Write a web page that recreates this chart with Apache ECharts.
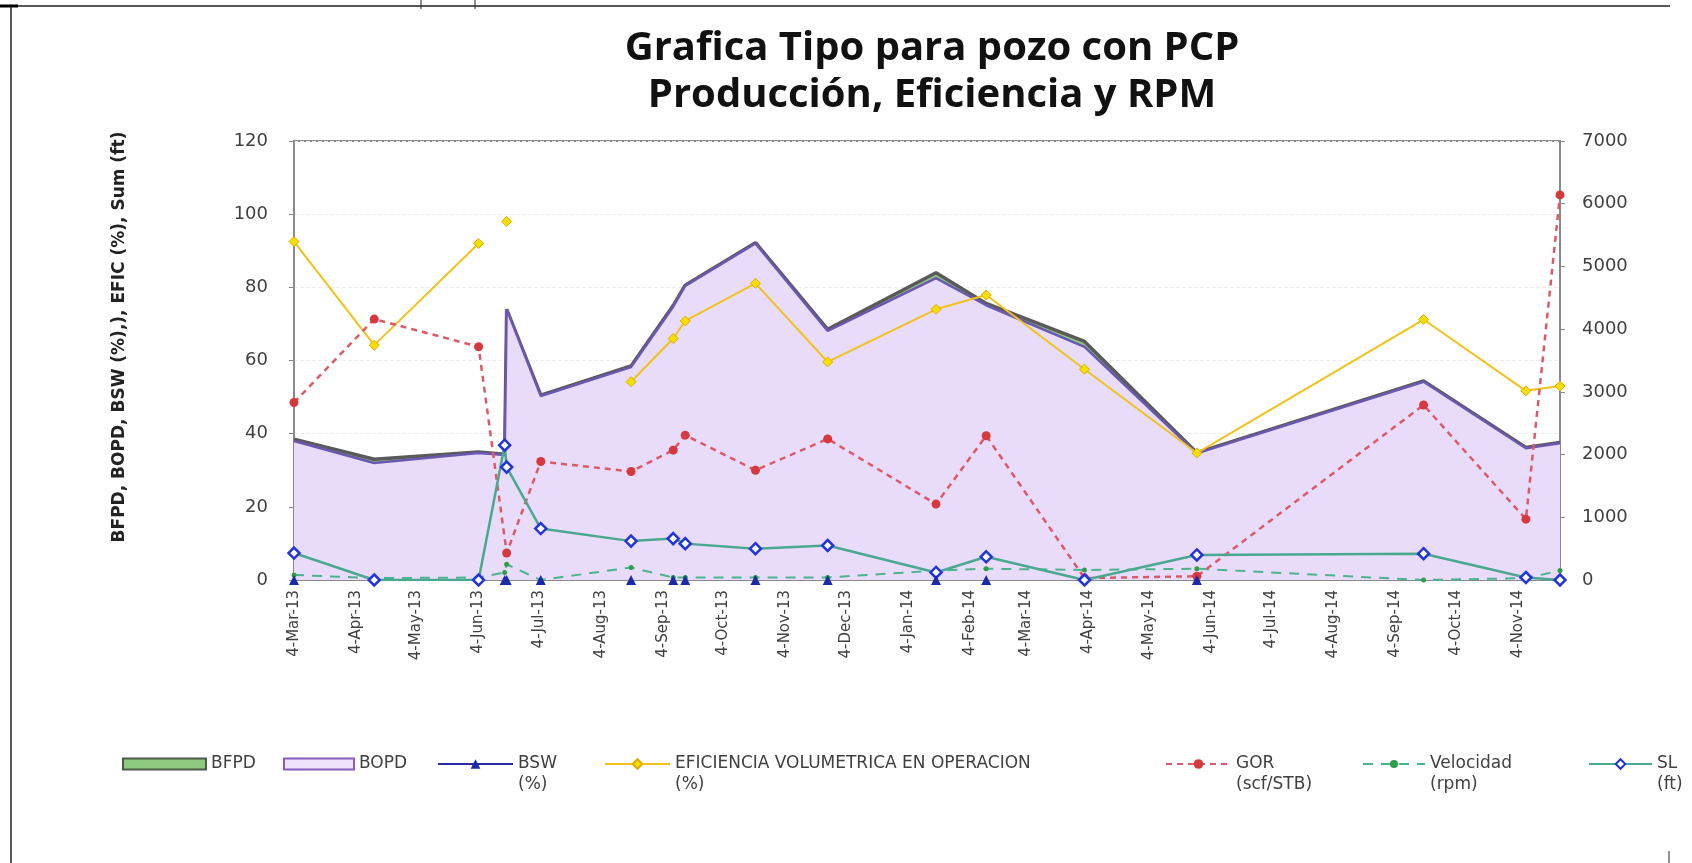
<!DOCTYPE html>
<html><head><meta charset="utf-8">
<script src="https://cdn.jsdelivr.net/npm/echarts@6/dist/echarts.min.js"></script>
<style>html,body{margin:0;padding:0;background:#fff}#c{width:1692px;height:863px}</style>
</head><body><div id="c"></div>
<script>
// ---- data ----
const dates = ['2013-03-04','2013-04-13','2013-06-04','2013-06-17','2013-06-18','2013-07-05','2013-08-19','2013-09-09','2013-09-15','2013-10-20','2013-11-25','2014-01-18','2014-02-12','2014-04-02','2014-05-28','2014-09-18','2014-11-08','2014-11-25'];
const bfpd = [38.5, 33, 35, 34.4, 74, 50.5, 58.5, 75, 80.6, 92.2, 68.5, 84, 75.6, 65.2, 34.8, 54.4, 36.2, 37.6];
const bopd = [38, 32, 34.7, 34.2, 74, 50.3, 58.2, 74.7, 80.4, 92, 68.1, 82.5, 75.1, 63.7, 34.6, 54.2, 36, 37.4];
const bsw = [0, null, null, 0, 0, 0, 0, 0, 0, 0, 0, 0, 0, null, 0, null, null, null];
const eficiencia = [92.5, 64.2, 92, null, 98, null, 54.2, 66, 70.8, 81.1, 59.6, 74, 77.9, 57.6, 34.7, 71.2, 51.7, 53];
const gor = [2830, 4160, 3720, null, 430, 1890, 1730, 2070, 2310, 1750, 2250, 1210, 2300, 30, 60, 2790, 970, 6140];
const velocidad = [80, 30, 40, 120, 250, 0, 200, 40, 40, 40, 40, 150, 180, 160, 180, 0, 30, 150];
const sl = [430, 0, 0, 2150, 1800, 820, 620, 660, 580, 500, 550, 120, 370, 0, 400, 420, 40, 0];
const tickLabels = ['4-Mar-13','4-Apr-13','4-May-13','4-Jun-13','4-Jul-13','4-Aug-13','4-Sep-13','4-Oct-13','4-Nov-13','4-Dec-13','4-Jan-14','4-Feb-14','4-Mar-14','4-Apr-14','4-May-14','4-Jun-14','4-Jul-14','4-Aug-14','4-Sep-14','4-Oct-14','4-Nov-14'];
const leftTicks = [0, 20, 40, 60, 80, 100, 120];
const rightTicks = [0, 1000, 2000, 3000, 4000, 5000, 6000, 7000];
const titleText = 'Grafica Tipo para pozo con PCP\nProducción, Eficiencia y RPM';
const leftAxisName = 'BFPD, BOPD, BSW (%),), EFIC (%), Sum (ft)';
const names = ['BFPD', 'BOPD', 'BSW\n(%)', 'EFICIENCIA VOLUMETRICA EN OPERACION\n(%)', 'GOR\n(scf/STB)', 'Velocidad\n(rpm)', 'SL\n(ft)'];

// ---- helpers ----
const MON = {Jan:0,Feb:1,Mar:2,Apr:3,May:4,Jun:5,Jul:6,Aug:7,Sep:8,Oct:9,Nov:10,Dec:11};
const DAY = 86400000;
function dayNum(y, m, d){ return Math.round(Date.UTC(y, m, d) / DAY); }
function ts(s){ const p = s.split('-').map(Number); return dayNum(p[0], p[1]-1, p[2]); }
function tickTs(l){ const p = l.split('-'); return dayNum(2000 + Number(p[2]), MON[p[1]], Number(p[0])); }
const xs = dates.map(ts);
const tickVals = tickLabels.map(tickTs);
function pairs(arr){ return arr.map((v, i) => [xs[i], v == null ? '-' : v]); }
function labelFor(v){ let best = 0, bd = Infinity; tickVals.forEach((t, i) => { const d = Math.abs(t - v); if (d < bd) { bd = d; best = i; } }); return tickLabels[best]; }

const chart = echarts.init(document.getElementById('c'), null, {renderer: 'canvas'});
const labelFont = 'DejaVu Sans';
const axisGray = '#8a8a8a';
const txt = '#404040';

function legendAt(idx, left, twoLine, icon, extra){
  const lh = 21;
  return {
    data: [Object.assign({name: names[idx]}, extra || {})],
    left: left,
    top: twoLine ? 764 - lh * 1.5 : 764 - lh / 2,
    padding: 0,
    itemWidth: icon.w, itemHeight: icon.h,
    selectedMode: false,
    formatter: twoLine ? function(n){ return ' \n' + n; } : '{name}',
    textStyle: {fontFamily: labelFont, fontSize: 17, color: txt, lineHeight: lh}
  };
}

const option = {
  animation: false,
  backgroundColor: '#ffffff',
  title: {
    text: titleText, left: 927, top: 20, textAlign: 'center',
    textStyle: {fontFamily: 'Open Sans', fontWeight: 'bold', fontSize: 40, lineHeight: 47, color: '#111111'}
  },
  grid: {left: 294, right: 132, top: 141, bottom: 283, show: true, borderColor: axisGray, borderWidth: 2, backgroundColor: 'transparent'},
  legend: [
    legendAt(0, 122, false, {w: 83, h: 11}, {icon: 'rect', itemStyle: {color: '#8dc97f', borderColor: '#4a5a48', borderWidth: 2}}),
    legendAt(1, 283, false, {w: 70, h: 11}, {icon: 'rect', itemStyle: {color: '#efe3fb', borderColor: '#8a5cc0', borderWidth: 2}}),
    legendAt(2, 437, true, {w: 75, h: 12}, {lineStyle: {color: '#2b2ba0', width: 2, opacity: 1}}),
    legendAt(3, 604, true, {w: 65, h: 12}),
    legendAt(4, 1165, true, {w: 65, h: 12}),
    legendAt(5, 1362, true, {w: 62, h: 10}),
    legendAt(6, 1588, true, {w: 63, h: 12})
  ],
  xAxis: {
    type: 'value',
    min: xs[0], max: xs[xs.length - 1],
    axisLine: {show: true, onZero: false, lineStyle: {color: axisGray, width: 2}},
    axisTick: {show: false},
    splitLine: {show: false},
    axisLabel: {
      customValues: tickVals,
      formatter: function(v){ return labelFor(v); },
      rotate: 90, fontFamily: labelFont, fontSize: 15, color: txt, margin: 10,
      hideOverlap: false
    }
  },
  yAxis: [
    {
      type: 'value', min: leftTicks[0], max: leftTicks[leftTicks.length - 1], interval: leftTicks[1] - leftTicks[0],
      axisLine: {show: true, lineStyle: {color: axisGray, width: 2}},
      axisTick: {show: true, length: 5, lineStyle: {color: axisGray}},
      axisLabel: {fontFamily: labelFont, fontSize: 18, color: txt, margin: 26},
      splitLine: {show: true, lineStyle: {color: '#ececec', type: 'dashed'}}
    },
    {
      type: 'value', position: 'right', min: rightTicks[0], max: rightTicks[rightTicks.length - 1], interval: rightTicks[1] - rightTicks[0],
      axisLine: {show: true, lineStyle: {color: axisGray, width: 2}},
      axisTick: {show: true, length: 5, lineStyle: {color: axisGray}},
      axisLabel: {fontFamily: labelFont, fontSize: 18, color: txt, margin: 22, formatter: function(v){ return String(v); }},
      splitLine: {show: false}
    }
  ],
  series: [
    {name: names[0], type: 'line', yAxisIndex: 0, data: pairs(bfpd), symbol: 'none', z: 1,
     itemStyle: {color: '#8dc97f'}, lineStyle: {color: '#5a5a5a', width: 3.5}, areaStyle: {color: '#8dc97f', opacity: 1}},
    {name: names[1], type: 'line', yAxisIndex: 0, data: pairs(bopd), symbol: 'none', z: 2,
     itemStyle: {color: '#e8dcfa'}, lineStyle: {color: '#6a58b0', width: 2.5}, areaStyle: {color: '#e8dcfa', opacity: 1}},
    {name: names[2], type: 'line', yAxisIndex: 0, data: pairs(bsw), connectNulls: true, z: 5,
     symbol: 'triangle', symbolSize: 10, itemStyle: {color: '#1d2aa8'}, lineStyle: {color: '#2b2ba0', width: 2, opacity: 0}},
    {name: names[3], type: 'line', yAxisIndex: 0, data: pairs(eficiencia), connectNulls: false, z: 4,
     symbol: 'diamond', symbolSize: 10, itemStyle: {color: '#f4e000', borderColor: '#e2aa00', borderWidth: 1},
     lineStyle: {color: '#f0c21a', width: 2}},
    {name: names[4], type: 'line', yAxisIndex: 1, data: pairs(gor), connectNulls: true, z: 4,
     symbol: 'circle', symbolSize: 9, itemStyle: {color: '#d6393d'},
     lineStyle: {color: '#dc5a68', width: 2.5, type: [6, 5]}},
    {name: names[5], type: 'line', yAxisIndex: 1, data: pairs(velocidad), connectNulls: true, z: 3,
     symbol: 'circle', symbolSize: 5, itemStyle: {color: '#2e9e48'},
     lineStyle: {color: '#4cb48c', width: 2, type: [10, 8]}},
    {name: names[6], type: 'line', yAxisIndex: 1, data: pairs(sl), connectNulls: true, z: 4,
     symbol: 'diamond', symbolSize: 11, itemStyle: {color: '#ffffff', borderColor: '#2233dd', borderWidth: 2.5},
     lineStyle: {color: '#4aa88e', width: 2.5}}
  ],
  graphic: [
    {type: 'text', x: 120, y: 337, rotation: Math.PI / 2, style: {text: leftAxisName, fontFamily: labelFont, fontWeight: 'bold', fontSize: 17, fill: '#222222', align: 'center', verticalAlign: 'middle'}},
    {type: 'line', shape: {x1: 0, y1: 6, x2: 1670, y2: 6}, style: {stroke: '#222', lineWidth: 1.5}},
    {type: 'line', shape: {x1: 0, y1: 6, x2: 18, y2: 6}, style: {stroke: '#000', lineWidth: 3}},
    {type: 'line', shape: {x1: 11, y1: 6, x2: 11, y2: 863}, style: {stroke: '#222', lineWidth: 1.5}},
    {type: 'line', shape: {x1: 421, y1: 0, x2: 421, y2: 9}, style: {stroke: '#222', lineWidth: 1}},
    {type: 'line', shape: {x1: 475, y1: 0, x2: 475, y2: 9}, style: {stroke: '#222', lineWidth: 1}},
    {type: 'line', shape: {x1: 1669, y1: 851, x2: 1669, y2: 863}, style: {stroke: '#222', lineWidth: 1}}
  ]
};
chart.setOption(option);
</script>
</body></html>
